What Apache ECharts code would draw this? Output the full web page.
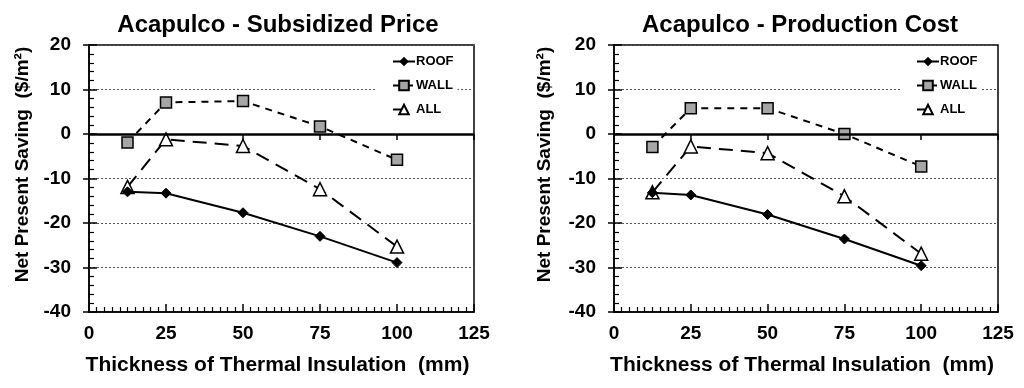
<!DOCTYPE html>
<html><head><meta charset="utf-8">
<script src="https://cdn.jsdelivr.net/npm/echarts@6/dist/echarts.min.js"></script>
<style>html,body{margin:0;padding:0;background:#fff}#c{width:1024px;height:388px}</style>
</head><body><div id="c"></div>
<script>
var thickness = [12.5, 25, 50, 75, 100];
var subRoof = [-13.0, -13.3, -17.7, -23.0, -28.9];
var subWall = [-1.9, 7.1, 7.4, 1.7, -5.8];
var subAll  = [-11.9, -1.2, -2.7, -12.4, -25.3];
var prodRoof = [-13.2, -13.7, -18.1, -23.6, -29.6];
var prodWall = [-2.9, 5.8, 5.8, 0.0, -7.3];
var prodAll  = [-13.1, -2.8, -4.3, -14.0, -26.9];
var titles = ['Acapulco - Subsidized Price', 'Acapulco - Production Cost'];
var seriesNames = ['ROOF', 'WALL', 'ALL'];
var xName = 'Thickness of Thermal Insulation  (mm)';
var yName = 'Net Present Saving  ($/m\u00B2)';

var FONT = '"Liberation Sans", Arial, sans-serif';
function pairs(xs, ys){ return xs.map(function(x,i){ return [x, ys[i]]; }); }

var grids = [
  {left: 89, right: 550, top: 45, bottom: 76, show: true, borderColor: '#000', borderWidth: 1.5},
  {left: 614, right: 26, top: 45, bottom: 76, show: true, borderColor: '#000', borderWidth: 1.5}
];
var xAxes = [], yAxes = [], series = [], titleOpts = [], legends = [];
var centers = [273, 795];
var legendLeft = [376, 900];
var yNameGap = [57, 60];
var dataSets = [[subRoof, subWall, subAll], [prodRoof, prodWall, prodAll]];
var labelStyle = {color: '#000', fontFamily: FONT, fontWeight: 'bold', fontSize: 19};

for (var g = 0; g < 2; g++) {
  titleOpts.push({text: titles[g], left: centers[g], top: 8, textAlign: 'center',
    textStyle: {fontFamily: FONT, fontWeight: 'bold', fontSize: 24, color: '#000'}});
  xAxes.push({gridIndex: g, type: 'value', position: 'bottom', min: 0, max: 125, interval: 25,
    name: xName, nameLocation: 'middle', nameGap: 43,
    nameTextStyle: {fontFamily: FONT, fontWeight: 'bold', fontSize: 21, color: '#000', padding: [0, 8, 0, 0]},
    axisLine: {show: true, onZero: false, lineStyle: {color: '#000', width: 1.5}},
    axisTick: {show: true, inside: true, length: 8, lineStyle: {color: '#000', width: 1.5}},
    minorTick: {show: true, splitNumber: 10, length: 5, lineStyle: {color: '#000', width: 1.2}},
    splitLine: {show: false},
    axisLabel: Object.assign({margin: 12}, labelStyle)});
  yAxes.push({gridIndex: g, type: 'value', position: 'left', min: -40, max: 20, interval: 10,
    name: yName, nameLocation: 'middle', nameGap: yNameGap[g],
    nameTextStyle: {fontFamily: FONT, fontWeight: 'bold', fontSize: 19, color: '#000', padding: [0, 0, 0, 28]},
    axisLine: {show: true, onZero: false, lineStyle: {color: '#000', width: 1.5}},
    axisTick: {show: true, inside: true, length: 8, lineStyle: {color: '#000', width: 1.5}},
    minorTick: {show: true, splitNumber: 5, length: 5, lineStyle: {color: '#000', width: 1.2}},
    splitLine: {show: true, lineStyle: {color: '#555', type: [2, 2], width: 1}},
    axisLabel: Object.assign({margin: 18}, labelStyle)});
}
for (var g2 = 0; g2 < 2; g2++) {
  xAxes.push({gridIndex: g2, type: 'value', position: 'bottom', min: 0, max: 125, interval: 25,
    axisLine: {show: false}, axisLabel: {show: false}, splitLine: {show: false},
    axisTick: {show: true, inside: false, length: 6, lineStyle: {color: '#000', width: 1.5}}});
  yAxes.push({gridIndex: g2, type: 'value', position: 'left', min: -40, max: 20, interval: 10,
    axisLine: {show: false}, axisLabel: {show: false}, splitLine: {show: false},
    axisTick: {show: true, inside: false, length: 6, lineStyle: {color: '#000', width: 1.5}}});
}

for (var k = 0; k < 2; k++) {
  var d = dataSets[k];
  series.push({type: 'line', xAxisIndex: k, yAxisIndex: k, data: [], silent: true,
    markLine: {silent: true, symbol: 'none', label: {show: false},
      lineStyle: {color: '#000', width: 2.5, type: 'solid'}, data: [{yAxis: 0}]}});
  series.push({name: seriesNames[0], type: 'line', xAxisIndex: k, yAxisIndex: k, data: pairs(thickness, d[0]),
    symbol: 'diamond', symbolSize: 10, z: 5,
    lineStyle: {color: '#000', width: 2}, itemStyle: {color: '#000', borderColor: '#000'}});
  series.push({name: seriesNames[1], type: 'line', xAxisIndex: k, yAxisIndex: k, data: pairs(thickness, d[1]),
    symbol: 'rect', symbolSize: 11, z: 4,
    lineStyle: {color: '#000', width: 2, type: [7, 6]}, itemStyle: {color: '#a6a6a6', borderColor: '#000', borderWidth: 1.5}});
  series.push({name: seriesNames[2], type: 'line', xAxisIndex: k, yAxisIndex: k, data: pairs(thickness, d[2]),
    symbol: 'triangle', symbolSize: 13, z: 4,
    lineStyle: {color: '#000', width: 2, type: [14, 8]}, itemStyle: {color: '#fff', borderColor: '#000', borderWidth: 1.5}});
  legends.push({orient: 'vertical', left: legendLeft[k], top: 51, itemWidth: 22, itemHeight: 12, itemGap: 11,
    padding: [4, 4, 4, 16], backgroundColor: '#fff',
    data: seriesNames, selectedMode: false,
    textStyle: {fontFamily: FONT, fontSize: 13, fontWeight: 'bold', color: '#000', padding: [0, 0, 0, -4]}});
}

var chart = echarts.init(document.getElementById('c'), null, {renderer: 'canvas'});
chart.setOption({
  animation: false, backgroundColor: '#fff',
  title: titleOpts, grid: grids, xAxis: xAxes, yAxis: yAxes, legend: legends, series: series
});
</script></body></html>
